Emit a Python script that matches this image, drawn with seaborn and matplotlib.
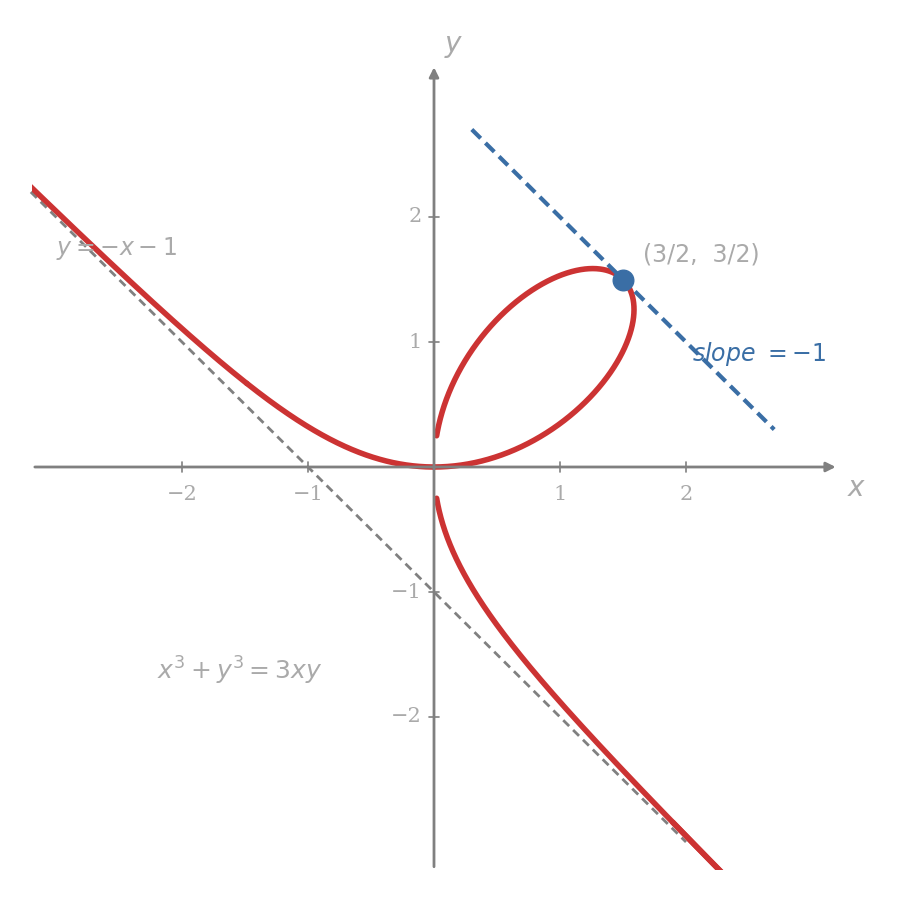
import numpy as np
import matplotlib
matplotlib.use("Agg")
import matplotlib.pyplot as plt
import seaborn as sns
from matplotlib.patches import Rectangle

# folium of Descartes x^3 + y^3 = 3axy, a = 1
a = 1.0
branch_ranges = [(-0.9, -0.45), (-0.45, 0.0), (0.0, 12.0), (-12.0, -1.15), (-1.15, -1.5)]
tick_values = [-2, -1, 1, 2]
point = (1.5, 1.5)
tangent_x = [0.3, 2.7]
asym_x = [-3.2, 2.0]
xmin, xmax, ymin, ymax = -3.19, 3.21, -3.22, 3.22

sns.set_style("white")
fig = plt.figure(figsize=(8.99, 9.02), dpi=100)
ax = fig.add_axes([0, 0, 1, 1])
ax.set_xlim(-434 / 126, 465 / 126)
ax.set_ylim(-435 / 125, 467 / 125)
ax.axis("off")

gray = "#808080"
lgray = "#aaaaaa"
red = "#cc3333"
blue = "#3a6ea5"

# axes with arrows
ax.annotate("", xy=(xmax, 0), xytext=(xmin, 0),
            arrowprops=dict(arrowstyle="-|>", color=gray, lw=2, mutation_scale=14))
ax.annotate("", xy=(0, ymax), xytext=(0, ymin),
            arrowprops=dict(arrowstyle="-|>", color=gray, lw=2, mutation_scale=14))
ax.text(3.35, -0.17, "x", color=lgray, fontsize=20, style="italic", ha="center", va="center")
ax.text(0.15, 3.38, "y", color=lgray, fontsize=20, style="italic", ha="center", va="center")

for v in tick_values:
    ax.plot([v, v], [-0.04, 0.04], color=gray, lw=1.2)
    ax.plot([-0.04, 0.04], [v, v], color=gray, lw=1.2)
    lab = f"\u2212{abs(v)}" if v < 0 else str(v)
    ax.text(v, -0.22, lab, color=lgray, fontsize=15, family="DejaVu Serif", ha="center", va="center")
    ax.text(-0.1, v, lab, color=lgray, fontsize=15, family="DejaVu Serif", ha="right", va="center")

clip = Rectangle((xmin, ymin), xmax - xmin, ymax - ymin, transform=ax.transData)

# asymptote
ax.plot(asym_x, [-x - 1 for x in asym_x], color=gray, lw=2, ls=(0, (3, 2)))

# curve
for lo, hi in branch_ranges:
    t = np.linspace(lo, hi, 2000)
    x = 3 * a * t / (1 + t ** 3)
    y = 3 * a * t ** 2 / (1 + t ** 3)
    line, = ax.plot(x, y, color=red, lw=4, solid_capstyle="round")
    line.set_clip_path(clip)

# tangent
ax.plot(tangent_x, [point[0] + point[1] - x for x in tangent_x], color=blue, lw=3, ls=(0, (3, 1.6)))
ax.scatter([point[0]], [point[1]], s=220, color=blue, zorder=5)

ax.text(1.66, 1.7, "(3/2,  3/2)", color=lgray, fontsize=17, va="center")
ax.text(2.05, 0.9, r"$slope\ = -1$", color=blue, fontsize=17, va="center")
ax.text(-3.0, 1.75, r"$y = -x - 1$", color=lgray, fontsize=17, va="center")
ax.text(-2.2, -1.63, r"$x^3 + y^3 = 3xy$", color=lgray, fontsize=18, va="center")

fig.savefig("out.png", dpi=100)
